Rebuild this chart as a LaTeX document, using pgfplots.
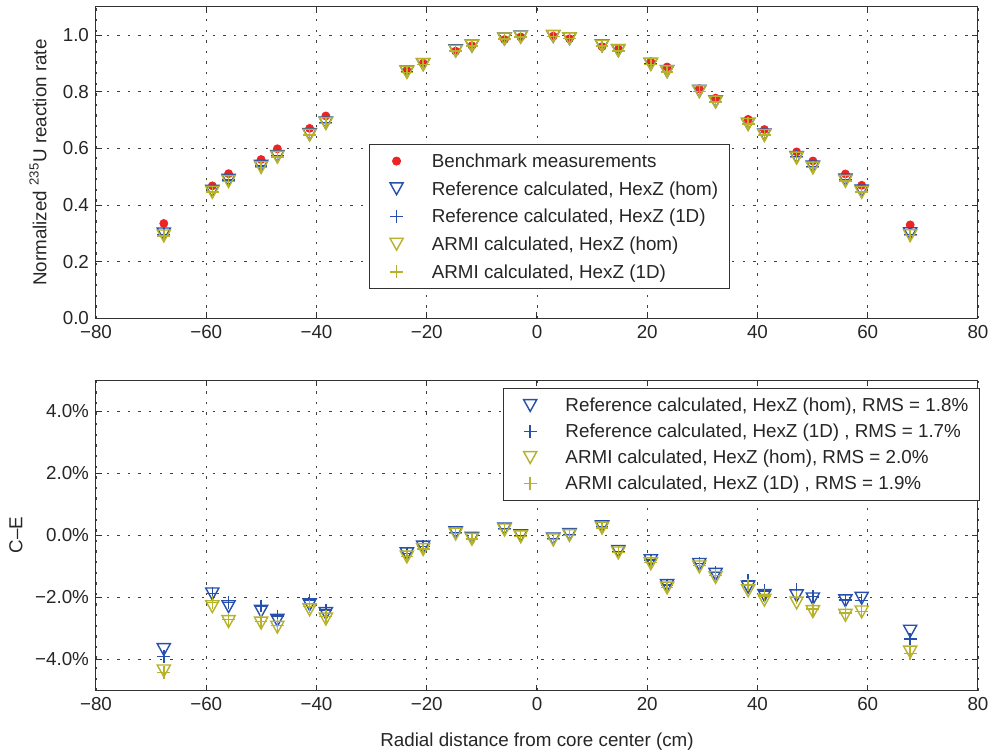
\documentclass[border=0pt]{standalone}
\usepackage{pgfplots}
\pgfplotsset{compat=1.18}
\usepackage{pgfplotstable}
\usepackage{fontspec}
\setmainfont{Liberation Sans}

\definecolor{refblue}{RGB}{38,80,172}
\definecolor{armiyel}{RGB}{182,178,42}
\definecolor{benchred}{RGB}{238,36,36}
\definecolor{axgray}{RGB}{50,50,50}

% open downward triangle, centred on its bounding box
\pgfdeclareplotmark{vtri}{%
  \pgfpathmoveto{\pgfqpoint{-\pgfplotmarksize}{0.9\pgfplotmarksize}}%
  \pgfpathlineto{\pgfqpoint{\pgfplotmarksize}{0.9\pgfplotmarksize}}%
  \pgfpathlineto{\pgfqpoint{0pt}{-0.9\pgfplotmarksize}}%
  \pgfpathclose
  \pgfusepathqstroke}

% x (cm), benchmark, calculated rates (top) and C-E in % (bottom)
\pgfplotstableread{
x      E      rh     r1     ah     a1     crh    cr1    cah    ca1
-67.7  0.335  0.298  0.296  0.291  0.291  -3.68  -3.91  -4.37  -4.42
-58.9  0.468  0.449  0.449  0.445  0.446  -1.89  -1.87  -2.30  -2.17
-55.95 0.511  0.488  0.489  0.483  0.484  -2.30  -2.16  -2.78  -2.72
-50.05 0.561  0.537  0.538  0.533  0.533  -2.45  -2.28  -2.83  -2.78
-47.1  0.599  0.572  0.573  0.569  0.570  -2.74  -2.60  -2.96  -2.90
-41.25 0.671  0.649  0.650  0.647  0.648  -2.24  -2.09  -2.40  -2.30
-38.3  0.715  0.690  0.691  0.688  0.689  -2.52  -2.41  -2.70  -2.62
-23.6  0.876  0.870  0.870  0.869  0.869  -0.60  -0.58  -0.70  -0.68
-20.65 0.901  0.897  0.897  0.896  0.897  -0.38  -0.36  -0.46  -0.44
-14.75 0.944  0.945  0.945  0.944  0.944   0.08   0.08   0.04   0.05
-11.8  0.963  0.962  0.962  0.962  0.962  -0.10  -0.10  -0.13  -0.12
-5.9   0.985  0.987  0.987  0.987  0.987   0.20   0.20   0.17   0.18
-2.95  0.994  0.994  0.994  0.993  0.994  -0.02  -0.02  -0.05  -0.04
2.95   0.997  0.996  0.996  0.996  0.996  -0.12  -0.12  -0.15  -0.14
5.9    0.988  0.988  0.988  0.988  0.988   0.02   0.02  -0.01   0.00
11.8   0.960  0.963  0.963  0.962  0.962   0.27   0.27   0.23   0.24
14.75  0.951  0.946  0.946  0.945  0.945  -0.52  -0.52  -0.57  -0.56
20.65  0.906  0.898  0.898  0.897  0.897  -0.82  -0.80  -0.92  -0.88
23.6   0.888  0.872  0.872  0.871  0.871  -1.62  -1.60  -1.70  -1.68
29.45  0.811  0.802  0.802  0.801  0.801  -0.94  -0.90  -1.02  -0.98
32.4   0.778  0.765  0.766  0.764  0.765  -1.26  -1.20  -1.36  -1.30
38.3   0.703  0.686  0.688  0.685  0.687  -1.67  -1.46  -1.79  -1.60
41.25  0.667  0.648  0.649  0.646  0.648  -1.94  -1.79  -2.09  -1.95
47.1   0.588  0.568  0.571  0.566  0.568  -1.95  -1.74  -2.18  -2.00
50.05  0.556  0.535  0.536  0.531  0.532  -2.05  -1.98  -2.46  -2.38
55.95  0.510  0.489  0.489  0.484  0.485  -2.11  -2.09  -2.58  -2.50
58.9   0.470  0.450  0.449  0.445  0.446  -2.03  -2.11  -2.47  -2.45
67.7   0.330  0.299  0.297  0.292  0.292  -3.09  -3.34  -3.76  -3.80
}\rates

\begin{document}
\begin{tikzpicture}[font=\fontsize{9.4}{11}\selectfont]
\useasboundingbox (0,0) rectangle (495.5pt,-376.5pt);
\pgfplotsset{
  panel/.style={
    scale only axis, width=441pt,
    xmin=-80, xmax=80,
    xtick={-80,-60,...,80},
    xticklabels={−80,−60,−40,−20,0,20,40,60,80},
    grid=major,
    major grid style={black!75, line width=0.45pt, dash pattern=on 1.2pt off 4.1pt},
    axis line style={axgray, line width=0.5pt},
    tick style={axgray, line width=0.5pt},
    major tick length=3pt,
    tick label style={font=\fontsize{9.4}{11}\selectfont, text=black!85},
    label style={font=\fontsize{9.4}{11}\selectfont, text=black!85},
    legend cell align=left,
    legend style={draw=axgray, line width=0.5pt, fill=white, text=black!85,
      font=\fontsize{9.4}{11}\selectfont,
      anchor=north west, inner xsep=3.5pt, inner ysep=1.8pt, column sep=5.2pt,
      nodes={inner sep=2pt, text height=7.7pt, text depth=1.3pt}},
  },
  % legend image: one mark, set in from the frame
  onemark/.style={only marks,
    legend image code/.code={\path (0pt,0pt) (20pt,0pt); \draw[##1] plot coordinates {(9.8pt,0pt)};}},
  bench/.style={onemark, mark=*, mark size=2pt, color=benchred},
  rhom/.style={onemark, mark=vtri, mark size=3.3pt, color=refblue, mark options={line width=0.7pt}},
  r1d/.style={onemark, mark=+, mark size=3.2pt, color=refblue, mark options={line width=0.7pt}},
  ahom/.style={onemark, mark=vtri, mark size=3.3pt, color=armiyel, mark options={line width=0.7pt}},
  a1d/.style={onemark, mark=+, mark size=3.2pt, color=armiyel, mark options={line width=0.7pt}},
}

\begin{axis}[panel,
  at={(48pt,-159.15pt)}, anchor=south west, height=155.65pt,
  ymin=0, ymax=1.1, ytick={0,0.2,...,1.0},
  yticklabels={0.0,0.2,0.4,0.6,0.8,1.0},
  ylabel={Normalized \textsuperscript{235}U reaction rate},
  ylabel style={at={(axis description cs:-0.0658,0.5)}, anchor=center},
  legend style={at={(0.3095,0.56)}, row sep=0.85pt},
]
\addplot[bench] table[x=x, y=E] {\rates};
\addlegendentry{Benchmark measurements}
\addplot[rhom] table[x=x, y=rh] {\rates};
\addlegendentry{Reference calculated, HexZ (hom)}
\addplot[r1d] table[x=x, y=r1] {\rates};
\addlegendentry{Reference calculated, HexZ (1D)}
\addplot[ahom] table[x=x, y=ah] {\rates};
\addlegendentry{ARMI calculated, HexZ (hom)}
\addplot[a1d] table[x=x, y=a1] {\rates};
\addlegendentry{ARMI calculated, HexZ (1D)}
\end{axis}

\begin{axis}[panel,
  at={(48pt,-345.25pt)}, anchor=south west, height=155.25pt,
  ymin=-5, ymax=5, ytick={-4,-2,0,2,4},
  yticklabels={−4.0\%,−2.0\%,0.0\%,2.0\%,4.0\%},
  ylabel={C–E},
  ylabel style={at={(axis description cs:-0.0907,0.5)}, anchor=center},
  xlabel={Radial distance from core center (cm)},
  xlabel style={at={(axis description cs:0.5,-0.166)}, anchor=center},
  legend style={at={(0.461,0.973)}, row sep=0pt},
]
\addplot[rhom] table[x=x, y=crh] {\rates};
\addlegendentry{Reference calculated, HexZ (hom), RMS = 1.8\%}
\addplot[r1d] table[x=x, y=cr1] {\rates};
\addlegendentry{Reference calculated, HexZ (1D) , RMS = 1.7\%}
\addplot[ahom] table[x=x, y=cah] {\rates};
\addlegendentry{ARMI calculated, HexZ (hom), RMS = 2.0\%}
\addplot[a1d] table[x=x, y=ca1] {\rates};
\addlegendentry{ARMI calculated, HexZ (1D) , RMS = 1.9\%}
\end{axis}
\end{tikzpicture}
\end{document}
